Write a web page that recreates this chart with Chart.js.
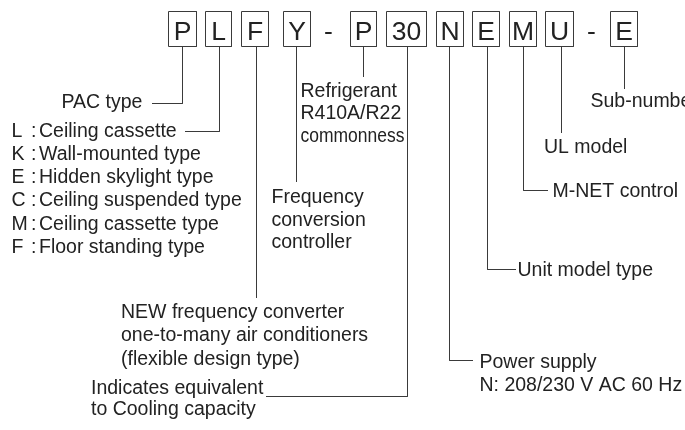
<!DOCTYPE html>
<html>
<head>
<meta charset="utf-8">
<script src="https://cdn.jsdelivr.net/npm/chart.js@4/dist/chart.umd.min.js"></script>
<style>
  html, body { margin: 0; padding: 0; background: #fff; }
  #wrap { width: 685px; height: 430px; }
</style>
</head>
<body>
<div id="wrap"><canvas id="codeChart" width="685" height="430"></canvas></div>
<script>
// Model code characters (top row)
const codeText  = ['P', 'L', 'F', 'Y', '-', 'P', '30', 'N', 'E', 'M', 'U', '-', 'E'];
const codeBoxed = [true, true, true, true, false, true, true, true, true, true, true, false, true];
const codeLeft  = [168.5, 205.5, 241.5, 283.5, 325, 350.5, 386.5, 436.5, 472.5, 509.5, 545.5, 588, 610.5];
const codeRight = [196.5, 231.5, 268.5, 310.5, 332, 376.5, 426.5, 463.5, 499.5, 536.5, 573.5, 595, 637.5];

// Leader lines (diagram units = px, y downward)
const leaders = [
    [[182.5, 46.5], [182.5, 103.5], [152, 103.5]],   // P -> PAC type
    [[219.5, 46.5], [219.5, 131.5], [185, 131.5]],   // L -> type list
    [[256.5, 46.5], [256.5, 298]],                    // F -> NEW frequency converter
    [[296.5, 46.5], [296.5, 182]],                    // Y -> Frequency conversion
    [[363.5, 46.5], [363.5, 77]],                     // P -> Refrigerant
    [[407.5, 46.5], [407.5, 396.5], [266, 396.5]],    // 30 -> capacity
    [[449.5, 46.5], [449.5, 360.5], [473, 360.5]],    // N -> Power supply
    [[487.5, 46.5], [487.5, 269.5], [516, 269.5]],    // E -> Unit model type
    [[523.5, 46.5], [523.5, 190.5], [548, 190.5]],    // M -> M-NET control
    [[561.5, 46.5], [561.5, 133]],                    // U -> UL model
    [[624.5, 46.5], [624.5, 89]]                      // E -> Sub-number
];

// Description labels
const labelLines = [
    ['PAC type'],
    ['Refrigerant', 'R410A/R22', 'commonness'],
    ['Frequency', 'conversion', 'controller'],
    ['NEW frequency converter', 'one-to-many air conditioners', '(flexible design type)'],
    ['Indicates equivalent', 'to Cooling capacity'],
    ['Power supply', 'N: 208/230 V AC 60 Hz'],
    ['Unit model type'],
    ['M-NET control'],
    ['UL model'],
    ['Sub-number']
];
const labelX   = [61.5, 300.5, 271.5, 121, 91, 479.5, 517.5, 552.5, 544, 590.5];
const labelY   = [108, 96.5, 203, 318, 393.5, 368, 276, 197, 152.5, 106.5];
const labelGap = [0, 22.5, 22.5, 23.4, 21.5, 23.4, 0, 0, 0, 0];

// PAC type list
const typeCodes = ['L', 'K', 'E', 'C', 'M', 'F'];
const typeNames = ['Ceiling cassette', 'Wall-mounted type', 'Hidden skylight type',
                   'Ceiling suspended type', 'Ceiling cassette type', 'Floor standing type'];
const typeTop = 136.5;
const typeGap = 23.3;

const lineColor = '#3a3a3a';
const textColor = '#222222';
const fontFamily = '"Liberation Sans", Arial, Helvetica, sans-serif';
// the word "commonness" is set tighter in the original
const squeezed = { 'commonness': 104 };

// datasets: box outlines + leader lines
const datasets = [];
codeText.forEach((t, i) => {
    if (!codeBoxed[i]) return;
    const l = codeLeft[i], r = codeRight[i];
    datasets.push({
        data: [{x: l, y: 11.5}, {x: r, y: 11.5}, {x: r, y: 46.5}, {x: l, y: 46.5}, {x: l, y: 11.5}],
        borderColor: lineColor, borderWidth: 1, showLine: true, pointRadius: 0, tension: 0
    });
});
leaders.forEach(pts => {
    datasets.push({
        data: pts.map(p => ({x: p[0], y: p[1]})),
        borderColor: lineColor, borderWidth: 1, showLine: true, pointRadius: 0, tension: 0
    });
});

// texts are placed through the chart scales
const textPlugin = {
    id: 'diagramText',
    afterDatasetsDraw(chart) {
        const ctx = chart.ctx;
        const xs = chart.scales.x, ys = chart.scales.y;
        ctx.save();
        ctx.fillStyle = textColor;
        ctx.textBaseline = 'alphabetic';

        // code characters
        ctx.font = '26.5px ' + fontFamily;
        ctx.textAlign = 'center';
        codeText.forEach((t, i) => {
            const cx = (codeLeft[i] + codeRight[i]) / 2;
            ctx.fillText(t, xs.getPixelForValue(cx), ys.getPixelForValue(39.5));
        });

        // labels
        ctx.font = '19.5px ' + fontFamily;
        ctx.textAlign = 'left';
        labelLines.forEach((lines, i) => {
            lines.forEach((s, j) => {
                const px = xs.getPixelForValue(labelX[i]);
                const py = ys.getPixelForValue(labelY[i] + j * labelGap[i]);
                if (squeezed[s]) ctx.fillText(s, px, py, squeezed[s]);
                else ctx.fillText(s, px, py);
            });
        });

        // type list
        typeCodes.forEach((c, i) => {
            const y = ys.getPixelForValue(typeTop + i * typeGap);
            ctx.fillText(c, xs.getPixelForValue(11.5), y);
            ctx.fillText(':', xs.getPixelForValue(31), y);
            ctx.fillText(typeNames[i], xs.getPixelForValue(39), y);
        });
        ctx.restore();
    }
};

const codeChart = new Chart(document.getElementById('codeChart').getContext('2d'), {
    type: 'scatter',
    data: { datasets: datasets },
    options: {
        responsive: false,
        animation: false,
        layout: { padding: 0 },
        plugins: { legend: { display: false }, tooltip: { enabled: false } },
        scales: {
            x: { type: 'linear', min: 0, max: 685, display: false },
            y: { type: 'linear', min: 0, max: 430, reverse: true, display: false }
        }
    },
    plugins: [textPlugin]
});
</script>
</body>
</html>
